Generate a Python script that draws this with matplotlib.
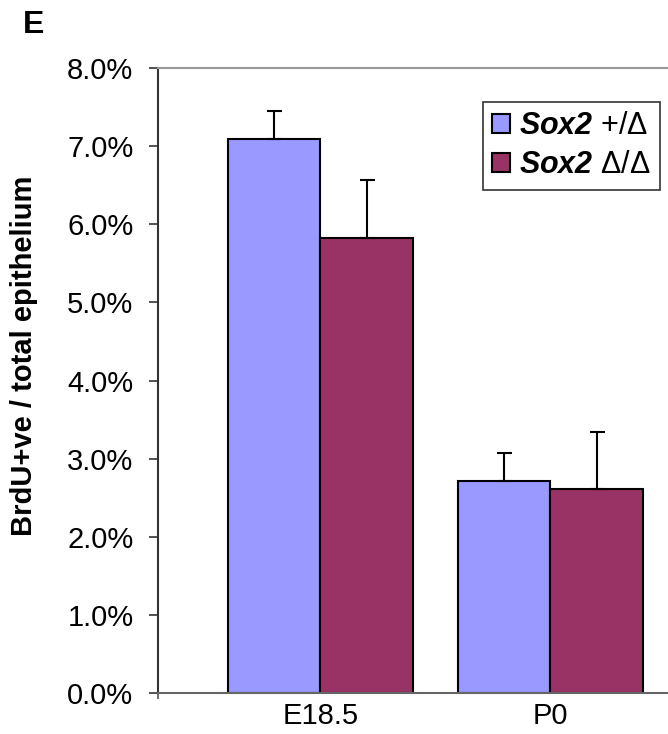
import numpy as np
import matplotlib
matplotlib.use("Agg")
import matplotlib.pyplot as plt
from matplotlib.patches import Patch
from matplotlib.ticker import FuncFormatter

plt.rcParams['font.family'] = ['Liberation Sans', 'DejaVu Sans']
plt.rcParams['mathtext.fontset'] = 'custom'
plt.rcParams['mathtext.rm'] = 'Liberation Sans'
plt.rcParams['mathtext.bf'] = 'Liberation Sans:italic:bold'
plt.rcParams['mathtext.it'] = 'Liberation Sans:italic'

# ---- data ----
categories = ["E18.5", "P0"]
het_values = [0.0709, 0.0271]
het_err = [0.0036, 0.0036]
mut_values = [0.0582, 0.0262]
mut_err = [0.0075, 0.0072]
series_labels = [r"$\mathbf{Sox2}$ +/Δ", r"$\mathbf{Sox2}$ Δ/Δ"]
yticks = [0.0, 0.01, 0.02, 0.03, 0.04, 0.05, 0.06, 0.07, 0.08]
ylabel = "BrdU+ve / total epithelium"
panel = "E"

blue = "#9999FF"
maroon = "#993366"

W, H = 668, 734
fig = plt.figure(figsize=(W / 100, H / 100), dpi=100)
left, bottom_px, top_px = 157.7, 693.3, 68.0
ax = fig.add_axes([left / W, 1 - bottom_px / H, (W - left) / W, (bottom_px - top_px) / H])

x = np.arange(len(categories))
w = 0.403
ax.bar(x - w / 2, het_values, w, color=blue, edgecolor="black", linewidth=1.5, zorder=2)
ax.bar(x + w / 2, mut_values, w, color=maroon, edgecolor="black", linewidth=1.5, zorder=2)
ax.errorbar(x - w / 2, het_values, yerr=[np.zeros(len(x)), het_err], fmt="none",
            ecolor="black", elinewidth=1.5, capsize=5.4, capthick=1.5, zorder=3)
ax.errorbar(x + w / 2, mut_values, yerr=[np.zeros(len(x)), mut_err], fmt="none",
            ecolor="black", elinewidth=1.5, capsize=5.4, capthick=1.5, zorder=3)

ax.set_xlim(-0.708, 1.512)
ax.set_ylim(0, 0.08)
ax.set_yticks(yticks)
ax.yaxis.set_major_formatter(FuncFormatter(lambda v, p: f"{v * 100:.1f}%"))
ax.tick_params(axis="y", direction="out", length=6.5, width=1.2, pad=11,
               labelsize=21, color="#333333")
ax.set_xticks(x)
ax.set_xticklabels(categories)
ax.tick_params(axis="x", which="major", length=0, pad=6, labelsize=21)
ax.set_xticks([-0.708], minor=True)
ax.tick_params(axis="x", which="minor", length=4.5, width=1.2, color="#555555")

ax.spines["right"].set_visible(False)
ax.spines["top"].set_color("#999999")
ax.spines["top"].set_linewidth(1.5)
ax.spines["left"].set_color("#333333")
ax.spines["left"].set_linewidth(1.5)
ax.spines["bottom"].set_color("#666666")
ax.spines["bottom"].set_linewidth(1.5)

ax.set_ylabel(ylabel, fontsize=21, fontweight="bold")
ax.yaxis.set_label_coords(-0.2355, 0.54)

handles = [Patch(facecolor=blue, edgecolor="black", linewidth=1.5),
           Patch(facecolor=maroon, edgecolor="black", linewidth=1.5)]
leg = ax.legend(handles, series_labels, loc="upper right",
                bbox_to_anchor=(660 / W, 1 - 102 / H), bbox_transform=fig.transFigure,
                fontsize=22, frameon=True, fancybox=False, framealpha=1,
                edgecolor="#333333", handlelength=0.58, handleheight=0.58,
                handletextpad=0.3, labelspacing=0.3, borderpad=0.3, borderaxespad=0)
leg.get_frame().set_linewidth(1.2)

fig.text(23 / W, 1 - 33 / H, panel, fontsize=23, fontweight="bold", va="baseline", ha="left")

fig.savefig("out.png", dpi=100)
